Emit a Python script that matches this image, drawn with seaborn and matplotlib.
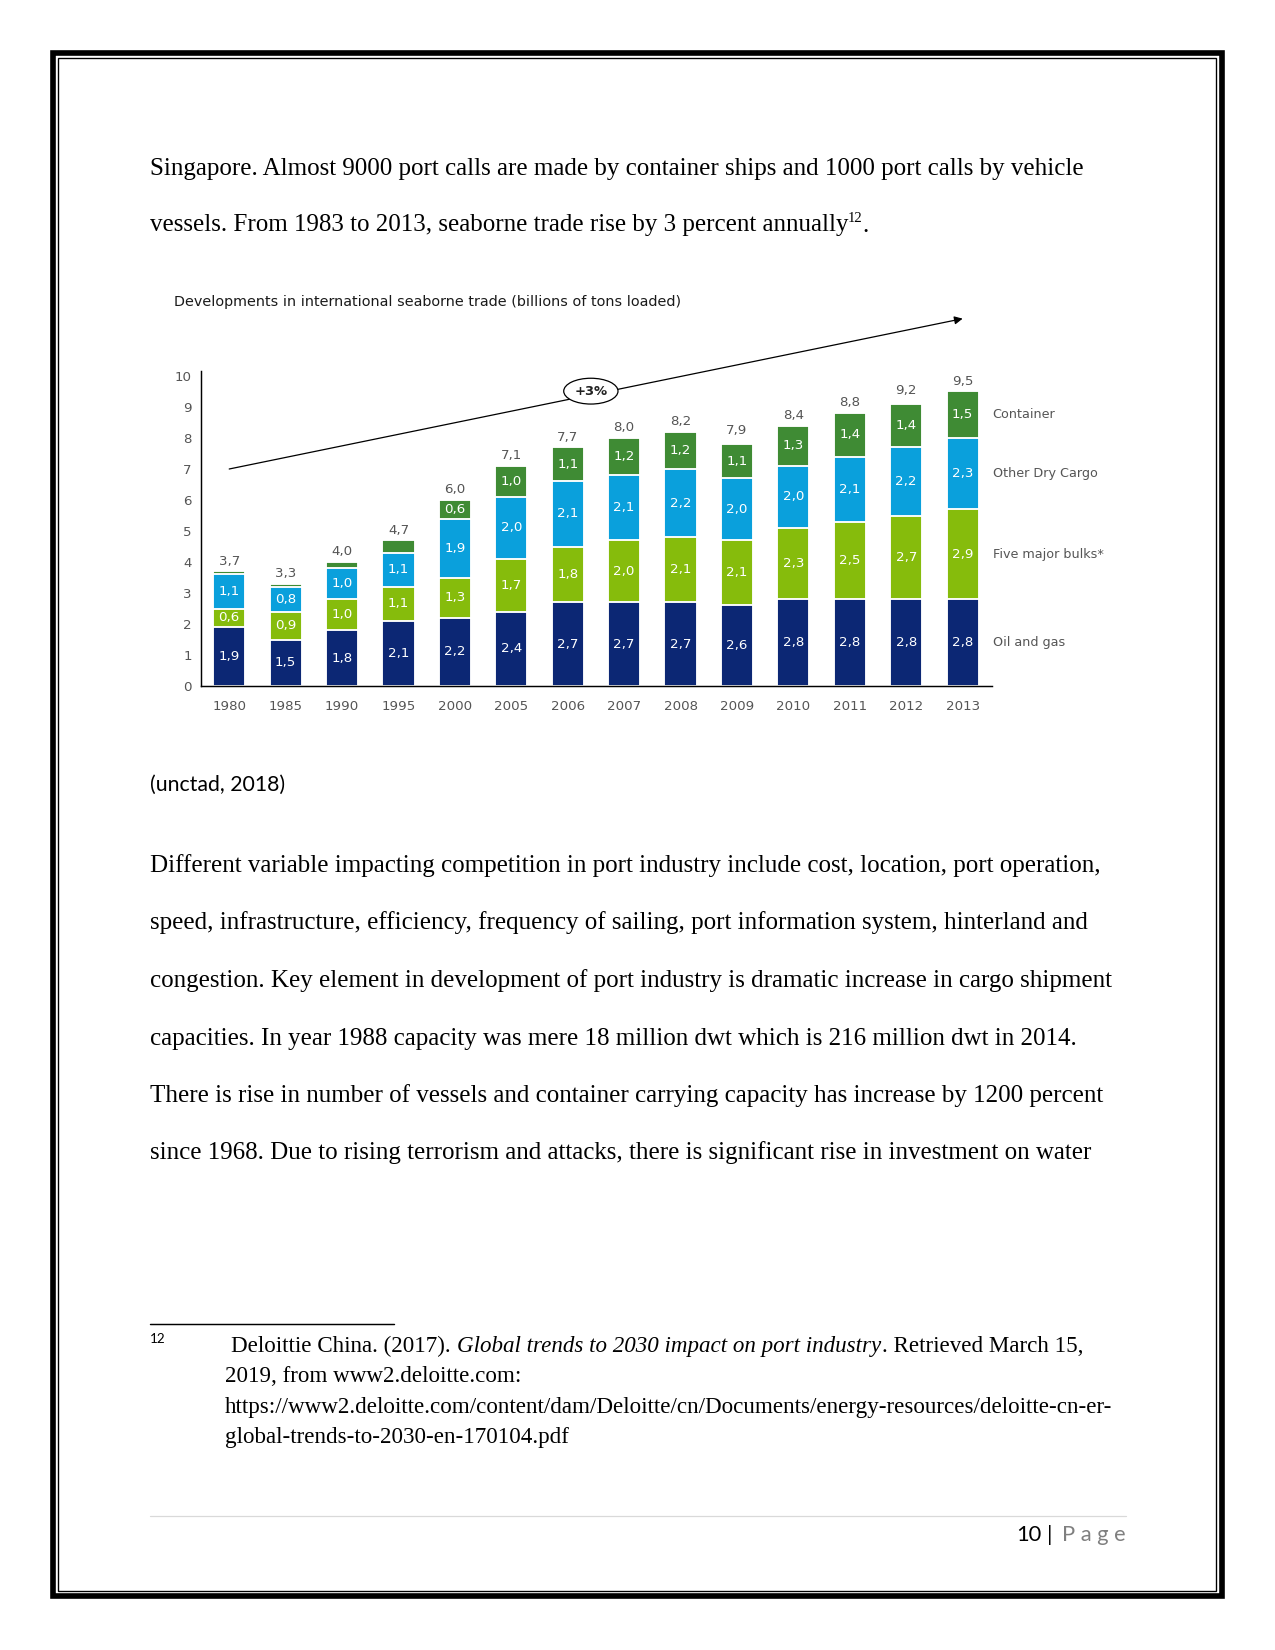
import numpy as np
import pandas as pd
import matplotlib
matplotlib.use("Agg")
import matplotlib.pyplot as plt
import seaborn as sns
from matplotlib.patches import Rectangle
from matplotlib.lines import Line2D

# ---------------- data ----------------
years = ["1980", "1985", "1990", "1995", "2000", "2005", "2006", "2007",
         "2008", "2009", "2010", "2011", "2012", "2013"]
oil_gas = [1.9, 1.5, 1.8, 2.1, 2.2, 2.4, 2.7, 2.7, 2.7, 2.6, 2.8, 2.8, 2.8, 2.8]
five_major_bulks = [0.6, 0.9, 1.0, 1.1, 1.3, 1.7, 1.8, 2.0, 2.1, 2.1, 2.3, 2.5, 2.7, 2.9]
other_dry_cargo = [1.1, 0.8, 1.0, 1.1, 1.9, 2.0, 2.1, 2.1, 2.2, 2.0, 2.0, 2.1, 2.2, 2.3]
container = [0.1, 0.1, 0.2, 0.4, 0.6, 1.0, 1.1, 1.2, 1.2, 1.1, 1.3, 1.4, 1.4, 1.5]
totals = [3.7, 3.3, 4.0, 4.7, 6.0, 7.1, 7.7, 8.0, 8.2, 7.9, 8.4, 8.8, 9.2, 9.5]
series_names = ["Oil and gas", "Five major bulks*", "Other Dry Cargo", "Container"]
series_colors = ["#0c2774", "#86bc0c", "#0aa0dc", "#3f8b34"]
trend_start, trend_end = 7.0, 11.85
trend_label = "+3%"
y_ticks = list(range(0, 11))
chart_title = "Developments in international seaborne trade (billions of tons loaded)"

line_a = "Singapore. Almost 9000 port calls are made by container ships and 1000 port calls by vehicle"
line_b = "vessels. From 1983 to 2013, seaborne trade rise by 3 percent annually"
source_note = "(unctad, 2018)"
paragraph = [
    "Different variable impacting competition in port industry include cost, location, port operation,",
    "speed, infrastructure, efficiency, frequency of sailing, port information system, hinterland and",
    "congestion. Key element in development of port industry is dramatic increase in cargo shipment",
    "capacities. In year 1988 capacity was mere 18 million dwt which is 216 million dwt in 2014.",
    "There is rise in number of vessels and container carrying capacity has increase by 1200 percent",
    "since 1968. Due to rising terrorism and attacks, there is significant rise in investment on water",
]
fn_a1 = "Deloittie China. (2017)."
fn_a2 = "Global trends to 2030 impact on port industry"
fn_a3 = ". Retrieved March 15,"
fn_lines = [
    "2019, from www2.deloitte.com:",
    "https://www2.deloitte.com/content/dam/Deloitte/cn/Documents/energy-resources/deloitte-cn-er-",
    "global-trends-to-2030-en-170104.pdf",
]

# ---------------- setup ----------------
sns.set_theme(style="white")
plt.rcParams['font.family'] = ['DejaVu Sans']

W, H = 1275, 1650
DPI = 150
fig = plt.figure(figsize=(W / DPI, H / DPI), dpi=DPI)
fig.patch.set_facecolor("white")


def fx(x):
    return x / W


def fy(y):
    return 1 - y / H


renderer = fig.canvas.get_renderer()
SERIF = ['Liberation Serif', 'DejaVu Serif']
SANS_DOC = ['Lato', 'DejaVu Sans']


def txt_width_px(t):
    bb = t.get_window_extent(renderer=renderer)
    return bb.x1


# ---------------- page border ----------------
fig.add_artist(Rectangle((fx(53), fy(1596)), fx(1221.5) - fx(53), (1596 - 53) / H,
                         transform=fig.transFigure, fill=False, ec="black", lw=2.7))
fig.add_artist(Rectangle((fx(58), fy(1591)), fx(1216) - fx(58), (1591 - 58) / H,
                         transform=fig.transFigure, fill=False, ec="black", lw=0.65))

# ---------------- body text ----------------
BODY = 12
fig.text(fx(150), fy(174.5), line_a, family=SERIF, fontsize=BODY, va="baseline", color="black")
tb = fig.text(fx(150), fy(231.5), line_b, family=SERIF, fontsize=BODY, va="baseline", color="black")
xe = txt_width_px(tb)
ts = fig.text((xe - 0.5) / W, fy(222), "12", family=SERIF, fontsize=7, va="baseline", color="black")
xe2 = txt_width_px(ts)
fig.text((xe2 - 0.5) / W, fy(231.5), ".", family=SERIF, fontsize=BODY, va="baseline", color="black")

fig.text(fx(150), fy(791), source_note, family=SANS_DOC, fontsize=10.2, va="baseline", color="black")

for i, line in enumerate(paragraph):
    fig.text(fx(150), fy(872 + i * 57.5), line, family=SERIF, fontsize=BODY, va="baseline", color="black")

# footnote separator
fig.add_artist(Line2D([fx(150), fx(394)], [fy(1323.5), fy(1323.5)], transform=fig.transFigure,
                      color="black", lw=0.7))
fig.text(fx(150), fy(1343), "12", family=SANS_DOC, fontsize=6.5, va="baseline", color="black")
FN = 11.05
t1 = fig.text(fx(231), fy(1352), fn_a1, family=SERIF, fontsize=FN, va="baseline", color="black")
sp = 6
x1 = txt_width_px(t1)
t2 = fig.text((x1 + sp) / W, fy(1352), fn_a2, family=SERIF, fontsize=FN, style="italic",
              va="baseline", color="black")
x2 = txt_width_px(t2)
fig.text((x2 + 1) / W, fy(1352), fn_a3, family=SERIF, fontsize=FN, va="baseline", color="black")
for i, line in enumerate(fn_lines):
    fig.text(fx(225), fy(1382.5 + i * 30.5), line, family=SERIF, fontsize=FN, va="baseline", color="black")

# footer
fig.add_artist(Line2D([fx(150), fx(1126)], [fy(1516), fy(1516)], transform=fig.transFigure,
                      color="#d9d9d9", lw=0.6))
fig.text(fx(1126), fy(1541), "P a g e", family=SANS_DOC, fontsize=10.5, ha="right", va="baseline",
         color="#7f7f7f")
fig.text(fx(1050), fy(1541), "|", family=SANS_DOC, fontsize=10.5, ha="center", va="baseline", color="black")
fig.text(fx(1041), fy(1541), "10", family=SANS_DOC, fontsize=10.5, ha="right", va="baseline", color="black")

# ---------------- chart ----------------
fig.text(fx(174), fy(302), chart_title, fontsize=6.9, va="center", color="#1a1a1a")

y_top = 10.15
px_per_unit = 31.0
ax = fig.add_axes([fx(201), fy(686), fx(992) - fx(201), y_top * px_per_unit / H])

series = [oil_gas, five_major_bulks, other_dry_cargo, container]
cum = np.cumsum(np.array(series), axis=0)
df = pd.DataFrame({"year": years})
for name, c in zip(series_names, cum):
    df[name] = c

BAR_W = 0.57
for k in range(3, -1, -1):
    sns.barplot(data=df, x="year", y=series_names[k], color=series_colors[k], saturation=1,
                width=BAR_W, edgecolor="white", linewidth=0.9, errorbar=None, ax=ax, zorder=2)

ax.set_xlim(-0.5, 13.52)
ax.set_ylim(0, y_top)
ax.set_yticks(y_ticks)
ax.set_yticklabels([str(v) for v in y_ticks])
ax.set_xlabel("")
ax.set_ylabel("")
ax.tick_params(axis="both", length=0, labelsize=6.4, labelcolor="#555555")
ax.tick_params(axis="y", pad=4.5)
ax.tick_params(axis="x", pad=6.5)
for s in ["top", "right"]:
    ax.spines[s].set_visible(False)
for s in ["left", "bottom"]:
    ax.spines[s].set_color("black")
    ax.spines[s].set_linewidth(0.7)
ax.set_facecolor("white")


def fmt(v):
    return f"{v:.1f}".replace(".", ",")


for i in range(len(years)):
    bottom = 0.0
    for k, vals in enumerate(series):
        v = vals[i]
        if v >= 0.5:
            ax.text(i, bottom + v / 2, fmt(v), ha="center", va="center", color="white",
                    fontsize=6.4, zorder=5)
        bottom += v
    ax.text(i, totals[i] + 0.12, fmt(totals[i]), ha="center", va="bottom", color="#555555",
            fontsize=6.4, zorder=5)

# series labels at right, aligned to middle of last bar's segments
last = len(years) - 1
bottom = 0.0
for k, vals in enumerate(series):
    v = vals[last]
    ax.text(last + 0.53, bottom + v / 2, series_names[k], ha="left", va="center", color="#555555",
            fontsize=6.1, clip_on=False)
    bottom += v

# trend arrow
ax.annotate("", xy=(last, trend_end), xytext=(0, trend_start),
            arrowprops=dict(arrowstyle="-|>", color="black", lw=0.6, mutation_scale=8,
                            shrinkA=0, shrinkB=0),
            annotation_clip=False, zorder=3)
xm = 6.41
ym = trend_start + (trend_end - trend_start) * xm / last
ax.text(xm, ym + 0.12, trend_label, ha="center", va="center", fontsize=6.3, fontweight="bold",
        color="#222222", zorder=6, clip_on=False,
        bbox=dict(boxstyle="ellipse,pad=0.2", fc="white", ec="black", lw=0.6))

fig.savefig("out.png", dpi=DPI, facecolor="white")
